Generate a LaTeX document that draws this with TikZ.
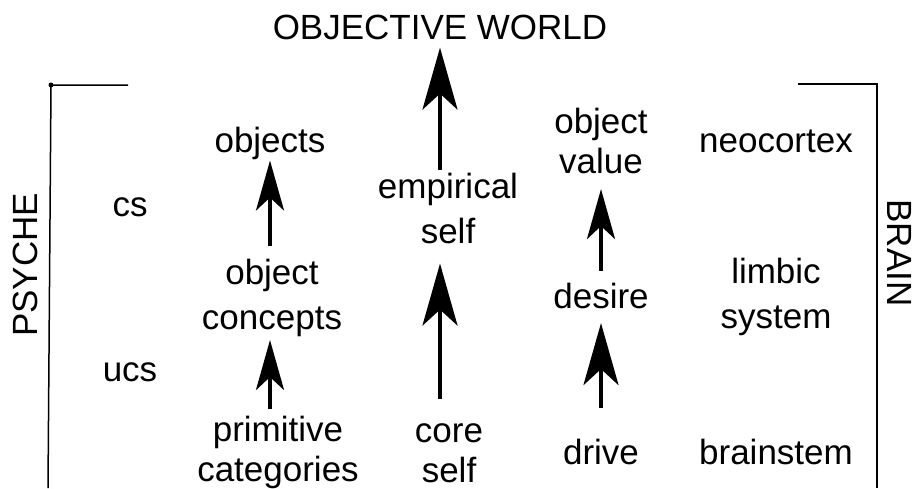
\documentclass[tikz,border=0pt]{standalone}
\usepackage{fontspec}
\setmainfont{Liberation Sans}
\usetikzlibrary{arrows.meta}
\tikzset{
  word/.style={inner sep=0pt, align=center, font=\fontsize{35}{45}\selectfont},
  tightword/.style={word, font=\fontsize{35}{40}\selectfont},
  uparrow/.style={line width=4pt},
  smallhead/.style={uparrow, -{Stealth[length=50pt, width=28pt, inset=13pt]}},
  bighead/.style={uparrow, -{Stealth[length=62pt, width=35pt, inset=16pt]}},
  bracket/.style={line width=1.5pt},
}
\begin{document}
\begin{tikzpicture}[x=1pt, y=-1pt]
  \useasboundingbox (0,0) rectangle (918,488);

  % top
  \node[word] (world) at (440,27) {OBJECTIVE WORLD};

  % left column
  \node[word] (objects) at (270,143) {objects};
  \node[word] (objconcepts) at (272,298) {object\\concepts};
  \node[tightword] (primcats) at (278,452) {primitive\\categories};

  % middle column
  \node[word] (empself) at (448,208) {empirical\\self};
  \node[tightword] (coreself) at (449,453) {core\\self};

  % right column
  \node[tightword] (objvalue) at (601,141) {object\\value};
  \node[word] (desire) at (601,296) {desire};
  \node[word] (drive) at (601,452) {drive};

  % brain levels
  \node[word] (neocortex) at (776,141) {neocortex};
  \node[word] (limbic) at (776,297) {limbic\\system};
  \node[word] (brainstem) at (776,452) {brainstem};

  % cs / ucs
  \node[word] (cs) at (130,207) {cs};
  \node[word] (ucs) at (130,372) {ucs};

  % side titles
  \node[word, rotate=90] (psyche) at (25,265) {PSYCHE};
  \node[word, rotate=-90] (brain) at (900,253) {BRAIN};

  % brackets
  \draw[bracket] (128,85) -- (51,85) -- (48,488);
  \fill (51,85) circle (2.5pt);
  \draw[bracket] (798,84) -- (877,84) -- (877,488);

  % arrows
  \draw[smallhead, shorten <=13pt, shorten >=1pt] (objconcepts.north -| objects) -- (objects.south);
  \draw[smallhead, shorten <=6pt, shorten >=3pt] (primcats.north -| objects) -- (objconcepts.south -| objects);
  \draw[bighead, shorten <=2pt, shorten >=8pt] (empself.north -| world) -- (world.south);
  \draw[bighead, shorten <=24pt, shorten >=20pt] (coreself.north -| world) -- (empself.south -| world);
  \draw[smallhead, shorten <=12pt, shorten >=15pt] (desire.north) -- (objvalue.south -| desire);
  \draw[bighead, shorten <=31pt, shorten >=14pt] (drive.north) -- (desire.south);
\end{tikzpicture}
\end{document}
